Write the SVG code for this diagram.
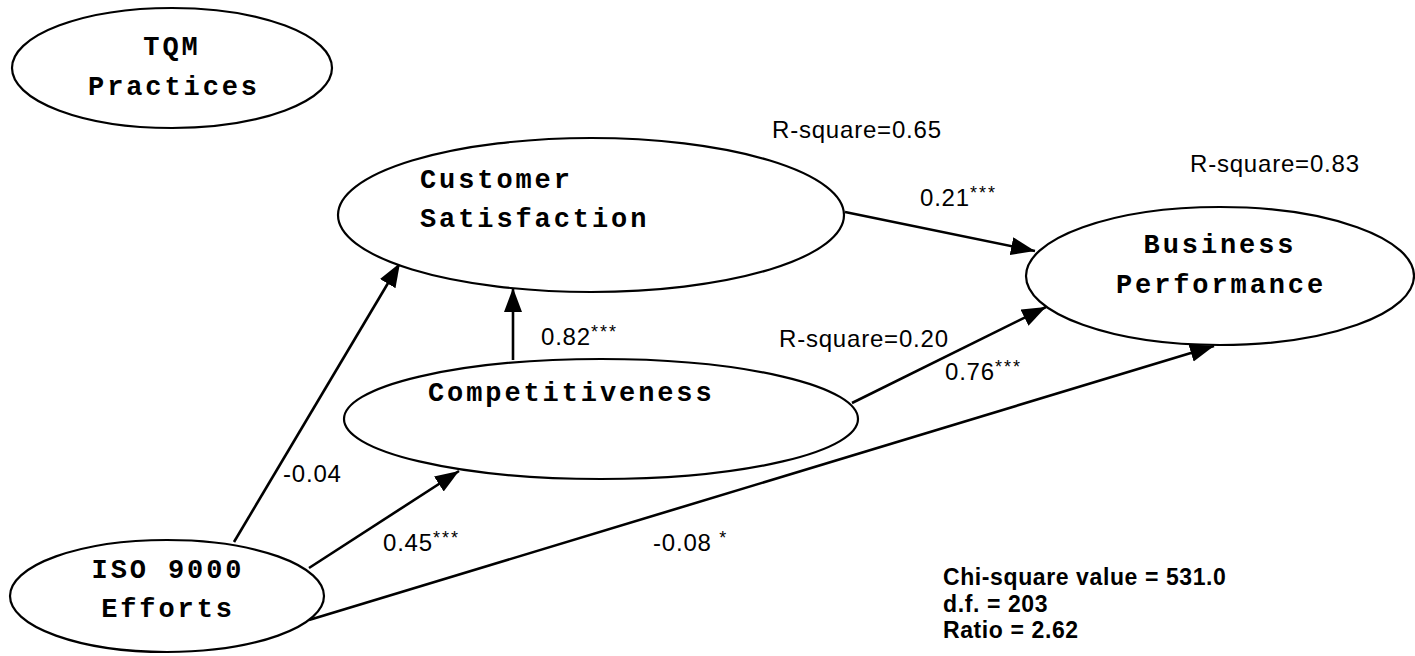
<svg xmlns="http://www.w3.org/2000/svg" width="1415" height="656" viewBox="0 0 1415 656">
<style>
.node ellipse{fill:#fff;stroke:#000;stroke-width:2.2}
.nt{font-family:"Liberation Mono","Courier New",monospace;font-weight:bold;font-size:27px;letter-spacing:2.9px;fill:#000}
.lbl{font-family:"Liberation Sans",Arial,sans-serif;font-size:24px;letter-spacing:0.8px;fill:#000}
.st{font-size:18px;letter-spacing:2px}
.fit{font-family:"Liberation Sans",Arial,sans-serif;font-size:23px;font-weight:bold;letter-spacing:0.6px;fill:#000}
.edge{stroke:#000;stroke-width:2.6;fill:none;marker-end:url(#ah)}
</style>
<defs>
<marker id="ah" markerUnits="userSpaceOnUse" markerWidth="26" markerHeight="20" refX="24" refY="9" orient="auto">
<path d="M0,0 L24,9 L0,18 z" fill="#000"/>
</marker>
</defs>
<rect width="1415" height="656" fill="#fff"/>
<g id="connectors">
<line class="edge" x1="845" y1="212" x2="1035" y2="251"/>
<line class="edge" x1="513" y1="360" x2="513" y2="288"/>
<line class="edge" x1="234" y1="542" x2="400" y2="263"/>
<line class="edge" x1="309" y1="568" x2="459" y2="471"/>
<line class="edge" x1="309" y1="620" x2="1214" y2="346"/>
<line class="edge" x1="852" y1="403" x2="1046" y2="307"/>
</g>
<g id="node-tqm" class="node">
<ellipse cx="172" cy="68" rx="160" ry="60"/>
<text class="nt" x="172" y="55" text-anchor="middle">TQM</text>
<text class="nt" x="174" y="95" text-anchor="middle">Practices</text>
</g>
<g id="node-cs" class="node">
<ellipse cx="591" cy="215" rx="253" ry="77"/>
<text class="nt" x="420" y="188">Customer</text>
<text class="nt" x="420" y="227">Satisfaction</text>
</g>
<g id="node-comp" class="node">
<ellipse cx="601" cy="419" rx="257" ry="60"/>
<text class="nt" x="428" y="401">Competitiveness</text>
</g>
<g id="node-bp" class="node">
<ellipse cx="1220" cy="276" rx="194" ry="69"/>
<text class="nt" x="1220" y="253" text-anchor="middle">Business</text>
<text class="nt" x="1221" y="293" text-anchor="middle">Performance</text>
</g>
<g id="node-iso" class="node">
<ellipse cx="167" cy="596" rx="157" ry="56"/>
<text class="nt" x="168" y="578" text-anchor="middle">ISO 9000</text>
<text class="nt" x="168" y="617" text-anchor="middle">Efforts</text>
</g>
<g id="labels">
<text class="lbl" x="772" y="138">R-square=0.65</text>
<text class="lbl" x="1190" y="172">R-square=0.83</text>
<text class="lbl" x="920" y="206">0.21<tspan class="st" dy="-7">***</tspan></text>
<text class="lbl" x="541" y="345">0.82<tspan class="st" dy="-7">***</tspan></text>
<text class="lbl" x="779" y="347">R-square=0.20</text>
<text class="lbl" x="945" y="380">0.76<tspan class="st" dy="-7">***</tspan></text>
<text class="lbl" x="283" y="482">-0.04</text>
<text class="lbl" x="383" y="551">0.45<tspan class="st" dy="-7">***</tspan></text>
<text class="lbl" x="653" y="551">-0.08 <tspan class="st" dy="-7">*</tspan></text>
<text class="fit" x="943" y="585">Chi-square value = 531.0</text>
<text class="fit" x="943" y="612">d.f. = 203</text>
<text class="fit" x="943" y="638">Ratio = 2.62</text>
</g>
</svg>
